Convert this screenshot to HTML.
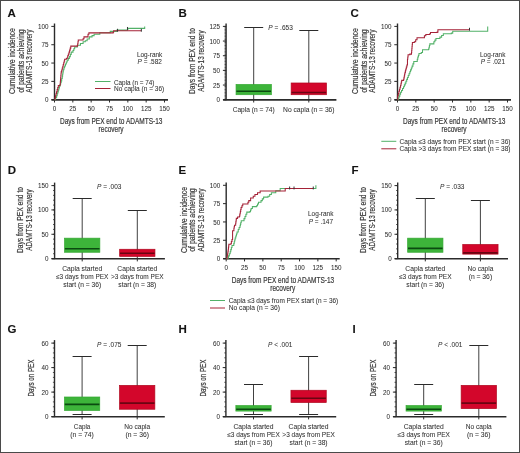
<!DOCTYPE html>
<html><head><meta charset="utf-8"><title>Figure</title>
<style>
html,body{margin:0;padding:0;background:#fff;}
body{width:520px;height:453px;overflow:hidden;}
svg{display:block;will-change:transform;}
svg text.t{stroke-width:0.2px;}
svg text.s{stroke-width:0.05px;fill:#303030;}
svg text{font-family:"Liberation Sans", sans-serif;stroke:#3a3a3a;stroke-width:0.12px;}
</style></head>
<body>
<svg width="520" height="453" viewBox="0 0 520 453" font-family='"Liberation Sans", sans-serif' fill="#3a3a3a">
<rect x="0" y="0" width="520" height="453" fill="#fff"/>
<text x="7.60" y="16.50" font-size="11.5" font-weight="bold" fill="#111">A</text>
<text transform="translate(14.80,61.10) rotate(-90)" font-size="8.4" class="t" text-anchor="middle" textLength="66.00" lengthAdjust="spacingAndGlyphs">Cumulative incidence</text>
<text transform="translate(23.50,61.10) rotate(-90)" font-size="8.4" class="t" text-anchor="middle" textLength="63.50" lengthAdjust="spacingAndGlyphs">of patients achieving</text>
<text transform="translate(31.80,61.10) rotate(-90)" font-size="8.4" class="t" text-anchor="middle" textLength="63.20" lengthAdjust="spacingAndGlyphs">ADAMTS-13 recovery</text>
<line x1="54.50" y1="23.50" x2="54.50" y2="100.20" stroke="#2b2b2b" stroke-width="1.4" />
<line x1="51.30" y1="99.70" x2="54.50" y2="99.70" stroke="#2b2b2b" stroke-width="1.0" />
<text x="48.50" y="102.25" font-size="6.3" class="s" text-anchor="end">0</text>
<line x1="51.30" y1="81.38" x2="54.50" y2="81.38" stroke="#2b2b2b" stroke-width="1.0" />
<text x="48.50" y="83.92" font-size="6.3" class="s" text-anchor="end">25</text>
<line x1="51.30" y1="63.05" x2="54.50" y2="63.05" stroke="#2b2b2b" stroke-width="1.0" />
<text x="48.50" y="65.60" font-size="6.3" class="s" text-anchor="end">50</text>
<line x1="51.30" y1="44.73" x2="54.50" y2="44.73" stroke="#2b2b2b" stroke-width="1.0" />
<text x="48.50" y="47.27" font-size="6.3" class="s" text-anchor="end">75</text>
<line x1="51.30" y1="26.40" x2="54.50" y2="26.40" stroke="#2b2b2b" stroke-width="1.0" />
<text x="48.50" y="28.95" font-size="6.3" class="s" text-anchor="end">100</text>
<line x1="51.50" y1="99.90" x2="168.00" y2="99.90" stroke="#2b2b2b" stroke-width="1.6" />
<line x1="54.50" y1="99.70" x2="54.50" y2="102.50" stroke="#2b2b2b" stroke-width="1.0" />
<text x="54.50" y="111.20" font-size="6.3" class="s" text-anchor="middle">0</text>
<line x1="72.83" y1="99.70" x2="72.83" y2="102.50" stroke="#2b2b2b" stroke-width="1.0" />
<text x="72.83" y="111.20" font-size="6.3" class="s" text-anchor="middle">25</text>
<line x1="91.17" y1="99.70" x2="91.17" y2="102.50" stroke="#2b2b2b" stroke-width="1.0" />
<text x="91.17" y="111.20" font-size="6.3" class="s" text-anchor="middle">50</text>
<line x1="109.50" y1="99.70" x2="109.50" y2="102.50" stroke="#2b2b2b" stroke-width="1.0" />
<text x="109.50" y="111.20" font-size="6.3" class="s" text-anchor="middle">75</text>
<line x1="127.83" y1="99.70" x2="127.83" y2="102.50" stroke="#2b2b2b" stroke-width="1.0" />
<text x="127.83" y="111.20" font-size="6.3" class="s" text-anchor="middle">100</text>
<line x1="146.17" y1="99.70" x2="146.17" y2="102.50" stroke="#2b2b2b" stroke-width="1.0" />
<text x="146.17" y="111.20" font-size="6.3" class="s" text-anchor="middle">125</text>
<line x1="164.50" y1="99.70" x2="164.50" y2="102.50" stroke="#2b2b2b" stroke-width="1.0" />
<text x="164.50" y="111.20" font-size="6.3" class="s" text-anchor="middle">150</text>
<text x="60.00" y="124.00" font-size="8.4" class="t" textLength="102.50" lengthAdjust="spacingAndGlyphs">Days from PEX end to ADAMTS-13</text>
<text x="111.10" y="132.40" font-size="8.4" class="t" text-anchor="middle" textLength="25.00" lengthAdjust="spacingAndGlyphs">recovery</text>
<path d="M54.50,99.70H55.56V97.72H56.63V95.74H57.20V93.80H57.76V91.86H58.33V89.91H58.90V87.97H59.47V86.19H60.04V84.42H60.60V82.64H61.17V80.86H61.72V78.55H62.27V76.24H62.62V74.05H62.96V71.85H63.30V69.65H63.96V67.81H64.62V65.98H65.48V64.03H66.33V62.07H67.19V60.12H68.29V58.36H69.39V56.60H70.30V54.36H71.22V52.13H72.98V50.44H73.82V48.72H74.67V47.00H77.38V45.24H80.46V43.41H83.10V41.79H85.30V40.84H87.13V39.08H89.33V36.88H92.05V35.64H94.10V34.32H99.82V32.70H110.23V31.38H116.98V30.14H127.47V28.97H128.20V28.38H144.70V26.40" fill="none" stroke="#52b168" stroke-width="1.05" stroke-linejoin="miter"/>
<line x1="127.47" y1="26.97" x2="127.47" y2="29.87" stroke="#333" stroke-width="1.0" />
<path d="M54.50,99.70H54.99V97.75H55.48V95.79H55.97V93.84H56.55V91.73H57.14V89.62H57.73V87.51H58.31V85.41H60.00V85.04H60.17V83.16H60.34V81.27H60.50V79.39H60.67V77.50H60.84V75.62H61.01V73.73H61.17V71.85H61.71V69.96H62.25V68.08H62.79V66.20H63.24V64.44H63.70V62.68H64.16V60.92H64.62V59.17H66.38V58.29H67.70V55.72H68.36V53.92H69.02V52.13H69.61V50.12H70.19V48.12H70.78V46.12H77.38V45.60H77.67V43.72H77.97V41.84H78.26V39.96H83.10V38.71H83.98V36.88H88.01V34.32H88.89V32.85H113.17V32.34H113.61V30.80H141.33" fill="none" stroke="#a52237" stroke-width="1.05" stroke-linejoin="miter"/>
<line x1="117.57" y1="28.80" x2="117.57" y2="31.70" stroke="#333" stroke-width="1.0" />
<line x1="141.33" y1="28.80" x2="141.33" y2="31.70" stroke="#333" stroke-width="1.0" />
<text x="136.90" y="56.90" font-size="6.4" class="s" textLength="25.40" lengthAdjust="spacingAndGlyphs">Log-rank</text>
<text x="137.60" y="64.20" font-size="6.4" class="s" textLength="24.30" lengthAdjust="spacingAndGlyphs"><tspan font-style="italic">P</tspan> = .582</text>
<line x1="95.00" y1="81.50" x2="110.50" y2="81.50" stroke="#52b168" stroke-width="1.0" />
<line x1="95.00" y1="88.50" x2="110.50" y2="88.50" stroke="#a52237" stroke-width="1.0" />
<text x="114.00" y="84.50" font-size="6.4" class="s" textLength="40.40" lengthAdjust="spacingAndGlyphs">Capla (n = 74)</text>
<text x="114.00" y="91.10" font-size="6.4" class="s" textLength="50.20" lengthAdjust="spacingAndGlyphs">No capla (n = 36)</text>
<text x="350.40" y="16.50" font-size="11.5" font-weight="bold" fill="#111">C</text>
<text transform="translate(357.80,61.10) rotate(-90)" font-size="8.4" class="t" text-anchor="middle" textLength="66.00" lengthAdjust="spacingAndGlyphs">Cumulative incidence</text>
<text transform="translate(366.50,61.10) rotate(-90)" font-size="8.4" class="t" text-anchor="middle" textLength="63.50" lengthAdjust="spacingAndGlyphs">of patients achieving</text>
<text transform="translate(374.80,61.10) rotate(-90)" font-size="8.4" class="t" text-anchor="middle" textLength="63.20" lengthAdjust="spacingAndGlyphs">ADAMTS-13 recovery</text>
<line x1="397.50" y1="23.50" x2="397.50" y2="100.20" stroke="#2b2b2b" stroke-width="1.4" />
<line x1="394.30" y1="99.70" x2="397.50" y2="99.70" stroke="#2b2b2b" stroke-width="1.0" />
<text x="391.50" y="102.25" font-size="6.3" class="s" text-anchor="end">0</text>
<line x1="394.30" y1="81.38" x2="397.50" y2="81.38" stroke="#2b2b2b" stroke-width="1.0" />
<text x="391.50" y="83.92" font-size="6.3" class="s" text-anchor="end">25</text>
<line x1="394.30" y1="63.05" x2="397.50" y2="63.05" stroke="#2b2b2b" stroke-width="1.0" />
<text x="391.50" y="65.60" font-size="6.3" class="s" text-anchor="end">50</text>
<line x1="394.30" y1="44.73" x2="397.50" y2="44.73" stroke="#2b2b2b" stroke-width="1.0" />
<text x="391.50" y="47.27" font-size="6.3" class="s" text-anchor="end">75</text>
<line x1="394.30" y1="26.40" x2="397.50" y2="26.40" stroke="#2b2b2b" stroke-width="1.0" />
<text x="391.50" y="28.95" font-size="6.3" class="s" text-anchor="end">100</text>
<line x1="394.50" y1="99.90" x2="511.00" y2="99.90" stroke="#2b2b2b" stroke-width="1.6" />
<line x1="397.50" y1="99.70" x2="397.50" y2="102.50" stroke="#2b2b2b" stroke-width="1.0" />
<text x="397.50" y="111.20" font-size="6.3" class="s" text-anchor="middle">0</text>
<line x1="415.83" y1="99.70" x2="415.83" y2="102.50" stroke="#2b2b2b" stroke-width="1.0" />
<text x="415.83" y="111.20" font-size="6.3" class="s" text-anchor="middle">25</text>
<line x1="434.17" y1="99.70" x2="434.17" y2="102.50" stroke="#2b2b2b" stroke-width="1.0" />
<text x="434.17" y="111.20" font-size="6.3" class="s" text-anchor="middle">50</text>
<line x1="452.50" y1="99.70" x2="452.50" y2="102.50" stroke="#2b2b2b" stroke-width="1.0" />
<text x="452.50" y="111.20" font-size="6.3" class="s" text-anchor="middle">75</text>
<line x1="470.83" y1="99.70" x2="470.83" y2="102.50" stroke="#2b2b2b" stroke-width="1.0" />
<text x="470.83" y="111.20" font-size="6.3" class="s" text-anchor="middle">100</text>
<line x1="489.17" y1="99.70" x2="489.17" y2="102.50" stroke="#2b2b2b" stroke-width="1.0" />
<text x="489.17" y="111.20" font-size="6.3" class="s" text-anchor="middle">125</text>
<line x1="507.50" y1="99.70" x2="507.50" y2="102.50" stroke="#2b2b2b" stroke-width="1.0" />
<text x="507.50" y="111.20" font-size="6.3" class="s" text-anchor="middle">150</text>
<text x="403.00" y="124.00" font-size="8.4" class="t" textLength="102.50" lengthAdjust="spacingAndGlyphs">Days from PEX end to ADAMTS-13</text>
<text x="454.10" y="132.40" font-size="8.4" class="t" text-anchor="middle" textLength="25.00" lengthAdjust="spacingAndGlyphs">recovery</text>
<path d="M397.50,99.70H398.31V98.01H399.06V96.11H399.82V94.20H400.58V92.30H401.56V90.42H402.54V88.53H403.51V86.65H404.36V84.89H405.20V83.13H405.96V81.25H406.72V79.37H407.47V77.49H408.26V75.58H409.04V73.68H409.82V71.77H410.58V69.89H411.34V68.01H412.09V66.13H412.94V63.86H413.78V61.58H416.71V61.58H417.26V59.31H417.81V57.04H418.40V55.28H418.99V53.52H421.26V52.42H422.51V49.71H428.59V49.05H429.01V47.31H429.42V45.58H429.84V43.85H433.87V41.79H434.90V40.14H435.93V38.49H439.89V37.10H441.61V35.45H443.33V33.80H451.33V33.14H452.72V31.16H487.70V26.40" fill="none" stroke="#52b168" stroke-width="1.05" stroke-linejoin="miter"/>
<path d="M397.50,99.70H397.72V95.74H398.31V93.47H398.89V91.20H399.46V89.27H400.02V87.34H400.58V85.41H400.95V83.72H401.31V82.03H401.68V80.35H403.51V79.76H403.88V77.86H404.25V75.95H404.61V74.05H405.00V72.36H405.40V70.67H405.79V68.99H406.34V66.97H406.89V64.96H407.47V59.31H407.77V57.00H408.06V54.69H409.82V54.11H411.51V52.42H411.68V50.43H411.86V48.43H412.03V46.44H412.21V44.45H412.39V42.45H414.37V41.79H415.69V39.78H417.01V37.76H424.41V35.78H425.81V34.46H429.77V33.80H430.50V32.41H437.17V32.12H437.91V29.77H469.51" fill="none" stroke="#a52237" stroke-width="1.05" stroke-linejoin="miter"/>
<line x1="469.51" y1="27.77" x2="469.51" y2="30.67" stroke="#333" stroke-width="1.0" />
<text x="480.00" y="57.00" font-size="6.4" class="s" textLength="25.40" lengthAdjust="spacingAndGlyphs">Log-rank</text>
<text x="480.70" y="64.30" font-size="6.4" class="s" textLength="24.30" lengthAdjust="spacingAndGlyphs"><tspan font-style="italic">P</tspan> = .021</text>
<line x1="381.30" y1="141.30" x2="396.30" y2="141.30" stroke="#52b168" stroke-width="1.0" />
<line x1="381.30" y1="148.80" x2="396.30" y2="148.80" stroke="#a52237" stroke-width="1.0" />
<text x="399.50" y="143.60" font-size="6.4" class="s" textLength="111.00" lengthAdjust="spacingAndGlyphs">Capla ≤3 days from PEX start (n = 36)</text>
<text x="399.50" y="151.10" font-size="6.4" class="s" textLength="111.00" lengthAdjust="spacingAndGlyphs">Capla &gt;3 days from PEX start (n = 38)</text>
<text x="178.60" y="174.30" font-size="11.5" font-weight="bold" fill="#111">E</text>
<text transform="translate(186.50,220.00) rotate(-90)" font-size="8.4" class="t" text-anchor="middle" textLength="66.00" lengthAdjust="spacingAndGlyphs">Cumulative incidence</text>
<text transform="translate(195.20,220.00) rotate(-90)" font-size="8.4" class="t" text-anchor="middle" textLength="63.50" lengthAdjust="spacingAndGlyphs">of patients achieving</text>
<text transform="translate(203.50,220.00) rotate(-90)" font-size="8.4" class="t" text-anchor="middle" textLength="63.20" lengthAdjust="spacingAndGlyphs">ADAMTS-13 recovery</text>
<line x1="226.20" y1="182.40" x2="226.20" y2="259.10" stroke="#2b2b2b" stroke-width="1.4" />
<line x1="223.00" y1="258.60" x2="226.20" y2="258.60" stroke="#2b2b2b" stroke-width="1.0" />
<text x="220.20" y="261.15" font-size="6.3" class="s" text-anchor="end">0</text>
<line x1="223.00" y1="240.28" x2="226.20" y2="240.28" stroke="#2b2b2b" stroke-width="1.0" />
<text x="220.20" y="242.83" font-size="6.3" class="s" text-anchor="end">25</text>
<line x1="223.00" y1="221.95" x2="226.20" y2="221.95" stroke="#2b2b2b" stroke-width="1.0" />
<text x="220.20" y="224.50" font-size="6.3" class="s" text-anchor="end">50</text>
<line x1="223.00" y1="203.63" x2="226.20" y2="203.63" stroke="#2b2b2b" stroke-width="1.0" />
<text x="220.20" y="206.18" font-size="6.3" class="s" text-anchor="end">75</text>
<line x1="223.00" y1="185.30" x2="226.20" y2="185.30" stroke="#2b2b2b" stroke-width="1.0" />
<text x="220.20" y="187.85" font-size="6.3" class="s" text-anchor="end">100</text>
<line x1="223.20" y1="258.80" x2="339.70" y2="258.80" stroke="#2b2b2b" stroke-width="1.6" />
<line x1="226.20" y1="258.60" x2="226.20" y2="261.40" stroke="#2b2b2b" stroke-width="1.0" />
<text x="226.20" y="270.10" font-size="6.3" class="s" text-anchor="middle">0</text>
<line x1="244.53" y1="258.60" x2="244.53" y2="261.40" stroke="#2b2b2b" stroke-width="1.0" />
<text x="244.53" y="270.10" font-size="6.3" class="s" text-anchor="middle">25</text>
<line x1="262.87" y1="258.60" x2="262.87" y2="261.40" stroke="#2b2b2b" stroke-width="1.0" />
<text x="262.87" y="270.10" font-size="6.3" class="s" text-anchor="middle">50</text>
<line x1="281.20" y1="258.60" x2="281.20" y2="261.40" stroke="#2b2b2b" stroke-width="1.0" />
<text x="281.20" y="270.10" font-size="6.3" class="s" text-anchor="middle">75</text>
<line x1="299.53" y1="258.60" x2="299.53" y2="261.40" stroke="#2b2b2b" stroke-width="1.0" />
<text x="299.53" y="270.10" font-size="6.3" class="s" text-anchor="middle">100</text>
<line x1="317.87" y1="258.60" x2="317.87" y2="261.40" stroke="#2b2b2b" stroke-width="1.0" />
<text x="317.87" y="270.10" font-size="6.3" class="s" text-anchor="middle">125</text>
<line x1="336.20" y1="258.60" x2="336.20" y2="261.40" stroke="#2b2b2b" stroke-width="1.0" />
<text x="336.20" y="270.10" font-size="6.3" class="s" text-anchor="middle">150</text>
<text x="231.70" y="282.90" font-size="8.4" class="t" textLength="102.50" lengthAdjust="spacingAndGlyphs">Days from PEX end to ADAMTS-13</text>
<text x="282.80" y="291.30" font-size="8.4" class="t" text-anchor="middle" textLength="25.00" lengthAdjust="spacingAndGlyphs">recovery</text>
<path d="M226.20,258.60H227.67V257.94H228.50V255.86H229.33V253.79H230.16V251.71H230.77V249.63H231.38V247.56H231.99V245.48H233.31V245.48H233.77V243.63H234.23V241.78H234.69V239.93H235.15V238.08H235.78V236.05H236.42V234.02H237.05V231.99H238.23V229.43H239.11V227.59H239.99V225.76H240.40V224.10H240.82V222.44H241.23V220.78H243.07V220.78H244.02V218.61H244.97V216.45H245.89V214.29H246.81V212.13H249.89V211.54H250.51V210.00H251.13V208.46H252.38V206.63H256.63V205.82H257.55V204.06H258.47V202.31H261.03V200.62H262.32V198.86H263.60V197.10H268.00V196.22H269.69V194.50H271.37V192.78H275.77V190.65H280.17V188.53H315.89V185.30" fill="none" stroke="#52b168" stroke-width="1.05" stroke-linejoin="miter"/>
<path d="M226.20,258.60H227.08V256.77H227.37V254.88H227.67V252.99H227.96V251.11H228.25V249.22H228.45V247.58H228.64V245.94H228.84V244.31H230.75V243.72H231.37V241.56H231.99V239.40H232.58V230.67H233.90V228.25H234.19V226.71H234.49V225.18H235.66V223.27H235.88V221.63H236.10V220.00H236.32V218.36H237.57V217.04H239.40V216.45H239.69V214.88H239.99V213.30H240.35V211.37H240.72V209.44H241.09V207.51H241.93V205.75H242.77V203.99H247.10V203.99H247.94V202.31H248.79V200.62H250.62V197.98H253.26V196.22H254.95V194.46H257.51V192.78H260.15V191.02H280.17V191.02H285.23V188.53H313.25" fill="none" stroke="#a52237" stroke-width="1.05" stroke-linejoin="miter"/>
<line x1="289.63" y1="186.53" x2="289.63" y2="189.43" stroke="#333" stroke-width="1.0" />
<line x1="294.03" y1="186.53" x2="294.03" y2="189.43" stroke="#333" stroke-width="1.0" />
<line x1="313.25" y1="186.53" x2="313.25" y2="189.43" stroke="#333" stroke-width="1.0" />
<text x="308.00" y="216.20" font-size="6.4" class="s" textLength="25.40" lengthAdjust="spacingAndGlyphs">Log-rank</text>
<text x="308.70" y="223.50" font-size="6.4" class="s" textLength="24.30" lengthAdjust="spacingAndGlyphs"><tspan font-style="italic">P</tspan> = .147</text>
<line x1="210.00" y1="300.50" x2="225.00" y2="300.50" stroke="#52b168" stroke-width="1.0" />
<line x1="210.00" y1="308.00" x2="225.00" y2="308.00" stroke="#a52237" stroke-width="1.0" />
<text x="228.70" y="302.60" font-size="6.4" class="s" textLength="109.60" lengthAdjust="spacingAndGlyphs">Capla ≤3 days from PEX start (n = 36)</text>
<text x="228.70" y="310.10" font-size="6.4" class="s" textLength="51.30" lengthAdjust="spacingAndGlyphs">No capla (n = 36)</text>
<text x="178.60" y="16.50" font-size="11.5" font-weight="bold" fill="#111">B</text>
<text transform="translate(194.50,61.10) rotate(-90)" font-size="8.4" class="t" text-anchor="middle" textLength="66.00" lengthAdjust="spacingAndGlyphs">Days from PEX end to</text>
<text transform="translate(203.50,61.10) rotate(-90)" font-size="8.4" class="t" text-anchor="middle" textLength="61.40" lengthAdjust="spacingAndGlyphs">ADAMTS-13 recovery</text>
<line x1="226.10" y1="23.40" x2="226.10" y2="100.20" stroke="#2b2b2b" stroke-width="1.4" />
<line x1="222.90" y1="99.70" x2="226.10" y2="99.70" stroke="#2b2b2b" stroke-width="1.0" />
<text x="220.10" y="102.25" font-size="6.3" class="s" text-anchor="end">0</text>
<line x1="222.90" y1="85.04" x2="226.10" y2="85.04" stroke="#2b2b2b" stroke-width="1.0" />
<text x="220.10" y="87.59" font-size="6.3" class="s" text-anchor="end">25</text>
<line x1="222.90" y1="70.38" x2="226.10" y2="70.38" stroke="#2b2b2b" stroke-width="1.0" />
<text x="220.10" y="72.93" font-size="6.3" class="s" text-anchor="end">50</text>
<line x1="222.90" y1="55.72" x2="226.10" y2="55.72" stroke="#2b2b2b" stroke-width="1.0" />
<text x="220.10" y="58.27" font-size="6.3" class="s" text-anchor="end">75</text>
<line x1="222.90" y1="41.06" x2="226.10" y2="41.06" stroke="#2b2b2b" stroke-width="1.0" />
<text x="220.10" y="43.61" font-size="6.3" class="s" text-anchor="end">100</text>
<line x1="222.90" y1="26.40" x2="226.10" y2="26.40" stroke="#2b2b2b" stroke-width="1.0" />
<text x="220.10" y="28.95" font-size="6.3" class="s" text-anchor="end">125</text>
<line x1="224.50" y1="99.70" x2="226.10" y2="99.70" stroke="#2b2b2b" stroke-width="0.8" />
<line x1="224.50" y1="98.23" x2="226.10" y2="98.23" stroke="#2b2b2b" stroke-width="0.8" />
<line x1="224.50" y1="96.77" x2="226.10" y2="96.77" stroke="#2b2b2b" stroke-width="0.8" />
<line x1="224.50" y1="95.30" x2="226.10" y2="95.30" stroke="#2b2b2b" stroke-width="0.8" />
<line x1="224.50" y1="93.84" x2="226.10" y2="93.84" stroke="#2b2b2b" stroke-width="0.8" />
<line x1="224.50" y1="92.37" x2="226.10" y2="92.37" stroke="#2b2b2b" stroke-width="0.8" />
<line x1="224.50" y1="90.90" x2="226.10" y2="90.90" stroke="#2b2b2b" stroke-width="0.8" />
<line x1="224.50" y1="89.44" x2="226.10" y2="89.44" stroke="#2b2b2b" stroke-width="0.8" />
<line x1="224.50" y1="87.97" x2="226.10" y2="87.97" stroke="#2b2b2b" stroke-width="0.8" />
<line x1="224.50" y1="86.51" x2="226.10" y2="86.51" stroke="#2b2b2b" stroke-width="0.8" />
<line x1="224.50" y1="85.04" x2="226.10" y2="85.04" stroke="#2b2b2b" stroke-width="0.8" />
<line x1="224.50" y1="83.57" x2="226.10" y2="83.57" stroke="#2b2b2b" stroke-width="0.8" />
<line x1="224.50" y1="82.11" x2="226.10" y2="82.11" stroke="#2b2b2b" stroke-width="0.8" />
<line x1="224.50" y1="80.64" x2="226.10" y2="80.64" stroke="#2b2b2b" stroke-width="0.8" />
<line x1="224.50" y1="79.18" x2="226.10" y2="79.18" stroke="#2b2b2b" stroke-width="0.8" />
<line x1="224.50" y1="77.71" x2="226.10" y2="77.71" stroke="#2b2b2b" stroke-width="0.8" />
<line x1="224.50" y1="76.24" x2="226.10" y2="76.24" stroke="#2b2b2b" stroke-width="0.8" />
<line x1="224.50" y1="74.78" x2="226.10" y2="74.78" stroke="#2b2b2b" stroke-width="0.8" />
<line x1="224.50" y1="73.31" x2="226.10" y2="73.31" stroke="#2b2b2b" stroke-width="0.8" />
<line x1="224.50" y1="71.85" x2="226.10" y2="71.85" stroke="#2b2b2b" stroke-width="0.8" />
<line x1="224.50" y1="70.38" x2="226.10" y2="70.38" stroke="#2b2b2b" stroke-width="0.8" />
<line x1="224.50" y1="68.91" x2="226.10" y2="68.91" stroke="#2b2b2b" stroke-width="0.8" />
<line x1="224.50" y1="67.45" x2="226.10" y2="67.45" stroke="#2b2b2b" stroke-width="0.8" />
<line x1="224.50" y1="65.98" x2="226.10" y2="65.98" stroke="#2b2b2b" stroke-width="0.8" />
<line x1="224.50" y1="64.52" x2="226.10" y2="64.52" stroke="#2b2b2b" stroke-width="0.8" />
<line x1="224.50" y1="63.05" x2="226.10" y2="63.05" stroke="#2b2b2b" stroke-width="0.8" />
<line x1="224.50" y1="61.58" x2="226.10" y2="61.58" stroke="#2b2b2b" stroke-width="0.8" />
<line x1="224.50" y1="60.12" x2="226.10" y2="60.12" stroke="#2b2b2b" stroke-width="0.8" />
<line x1="224.50" y1="58.65" x2="226.10" y2="58.65" stroke="#2b2b2b" stroke-width="0.8" />
<line x1="224.50" y1="57.19" x2="226.10" y2="57.19" stroke="#2b2b2b" stroke-width="0.8" />
<line x1="224.50" y1="55.72" x2="226.10" y2="55.72" stroke="#2b2b2b" stroke-width="0.8" />
<line x1="224.50" y1="54.25" x2="226.10" y2="54.25" stroke="#2b2b2b" stroke-width="0.8" />
<line x1="224.50" y1="52.79" x2="226.10" y2="52.79" stroke="#2b2b2b" stroke-width="0.8" />
<line x1="224.50" y1="51.32" x2="226.10" y2="51.32" stroke="#2b2b2b" stroke-width="0.8" />
<line x1="224.50" y1="49.86" x2="226.10" y2="49.86" stroke="#2b2b2b" stroke-width="0.8" />
<line x1="224.50" y1="48.39" x2="226.10" y2="48.39" stroke="#2b2b2b" stroke-width="0.8" />
<line x1="224.50" y1="46.92" x2="226.10" y2="46.92" stroke="#2b2b2b" stroke-width="0.8" />
<line x1="224.50" y1="45.46" x2="226.10" y2="45.46" stroke="#2b2b2b" stroke-width="0.8" />
<line x1="224.50" y1="43.99" x2="226.10" y2="43.99" stroke="#2b2b2b" stroke-width="0.8" />
<line x1="224.50" y1="42.53" x2="226.10" y2="42.53" stroke="#2b2b2b" stroke-width="0.8" />
<line x1="224.50" y1="41.06" x2="226.10" y2="41.06" stroke="#2b2b2b" stroke-width="0.8" />
<line x1="224.50" y1="39.59" x2="226.10" y2="39.59" stroke="#2b2b2b" stroke-width="0.8" />
<line x1="224.50" y1="38.13" x2="226.10" y2="38.13" stroke="#2b2b2b" stroke-width="0.8" />
<line x1="224.50" y1="36.66" x2="226.10" y2="36.66" stroke="#2b2b2b" stroke-width="0.8" />
<line x1="224.50" y1="35.20" x2="226.10" y2="35.20" stroke="#2b2b2b" stroke-width="0.8" />
<line x1="224.50" y1="33.73" x2="226.10" y2="33.73" stroke="#2b2b2b" stroke-width="0.8" />
<line x1="224.50" y1="32.26" x2="226.10" y2="32.26" stroke="#2b2b2b" stroke-width="0.8" />
<line x1="224.50" y1="30.80" x2="226.10" y2="30.80" stroke="#2b2b2b" stroke-width="0.8" />
<line x1="224.50" y1="29.33" x2="226.10" y2="29.33" stroke="#2b2b2b" stroke-width="0.8" />
<line x1="224.50" y1="27.87" x2="226.10" y2="27.87" stroke="#2b2b2b" stroke-width="0.8" />
<line x1="224.50" y1="26.40" x2="226.10" y2="26.40" stroke="#2b2b2b" stroke-width="0.8" />
<line x1="223.10" y1="99.90" x2="336.40" y2="99.90" stroke="#2b2b2b" stroke-width="1.6" />
<line x1="253.70" y1="99.70" x2="253.70" y2="102.50" stroke="#2b2b2b" stroke-width="1.0" />
<line x1="253.70" y1="27.50" x2="253.70" y2="99.50" stroke="#2b2b2b" stroke-width="0.9" />
<line x1="244.20" y1="27.50" x2="263.20" y2="27.50" stroke="#2b2b2b" stroke-width="1.0" />
<line x1="244.20" y1="99.50" x2="263.20" y2="99.50" stroke="#2b2b2b" stroke-width="1.0" />
<rect x="236.05" y="84.45" width="35.30" height="10.26" fill="#3db43a" stroke="#34a832" stroke-width="0.7"/>
<line x1="236.40" y1="91.20" x2="271.00" y2="91.20" stroke="#0b4a10" stroke-width="1.6" />
<text x="253.70" y="111.80" font-size="6.4" class="s" text-anchor="middle" textLength="42.00" lengthAdjust="spacingAndGlyphs">Capla (n = 74)</text>
<line x1="308.80" y1="99.70" x2="308.80" y2="102.50" stroke="#2b2b2b" stroke-width="1.0" />
<line x1="308.80" y1="30.50" x2="308.80" y2="99.50" stroke="#2b2b2b" stroke-width="0.9" />
<line x1="299.30" y1="30.50" x2="318.30" y2="30.50" stroke="#2b2b2b" stroke-width="1.0" />
<line x1="299.30" y1="99.50" x2="318.30" y2="99.50" stroke="#2b2b2b" stroke-width="1.0" />
<rect x="291.15" y="82.99" width="35.30" height="11.73" fill="#d3062b" stroke="#b0081f" stroke-width="0.7"/>
<line x1="291.50" y1="92.55" x2="326.10" y2="92.55" stroke="#6a0512" stroke-width="1.6" />
<text x="308.80" y="111.80" font-size="6.4" class="s" text-anchor="middle" textLength="51.50" lengthAdjust="spacingAndGlyphs">No capla (n = 36)</text>
<text x="268.30" y="30.00" font-size="6.4" class="s" textLength="24.50" lengthAdjust="spacingAndGlyphs"><tspan font-style="italic">P</tspan> = .653</text>
<text x="7.80" y="174.30" font-size="11.5" font-weight="bold" fill="#111">D</text>
<text transform="translate(23.00,220.00) rotate(-90)" font-size="8.4" class="t" text-anchor="middle" textLength="66.00" lengthAdjust="spacingAndGlyphs">Days from PEX end to</text>
<text transform="translate(32.00,220.00) rotate(-90)" font-size="8.4" class="t" text-anchor="middle" textLength="61.40" lengthAdjust="spacingAndGlyphs">ADAMTS-13 recovery</text>
<line x1="54.60" y1="182.60" x2="54.60" y2="259.10" stroke="#2b2b2b" stroke-width="1.4" />
<line x1="51.40" y1="258.60" x2="54.60" y2="258.60" stroke="#2b2b2b" stroke-width="1.0" />
<text x="48.60" y="261.15" font-size="6.3" class="s" text-anchor="end">0</text>
<line x1="51.40" y1="234.27" x2="54.60" y2="234.27" stroke="#2b2b2b" stroke-width="1.0" />
<text x="48.60" y="236.82" font-size="6.3" class="s" text-anchor="end">50</text>
<line x1="51.40" y1="209.93" x2="54.60" y2="209.93" stroke="#2b2b2b" stroke-width="1.0" />
<text x="48.60" y="212.48" font-size="6.3" class="s" text-anchor="end">100</text>
<line x1="51.40" y1="185.60" x2="54.60" y2="185.60" stroke="#2b2b2b" stroke-width="1.0" />
<text x="48.60" y="188.15" font-size="6.3" class="s" text-anchor="end">150</text>
<line x1="53.00" y1="258.60" x2="54.60" y2="258.60" stroke="#2b2b2b" stroke-width="0.8" />
<line x1="53.00" y1="253.73" x2="54.60" y2="253.73" stroke="#2b2b2b" stroke-width="0.8" />
<line x1="53.00" y1="248.87" x2="54.60" y2="248.87" stroke="#2b2b2b" stroke-width="0.8" />
<line x1="53.00" y1="244.00" x2="54.60" y2="244.00" stroke="#2b2b2b" stroke-width="0.8" />
<line x1="53.00" y1="239.13" x2="54.60" y2="239.13" stroke="#2b2b2b" stroke-width="0.8" />
<line x1="53.00" y1="234.27" x2="54.60" y2="234.27" stroke="#2b2b2b" stroke-width="0.8" />
<line x1="53.00" y1="229.40" x2="54.60" y2="229.40" stroke="#2b2b2b" stroke-width="0.8" />
<line x1="53.00" y1="224.53" x2="54.60" y2="224.53" stroke="#2b2b2b" stroke-width="0.8" />
<line x1="53.00" y1="219.67" x2="54.60" y2="219.67" stroke="#2b2b2b" stroke-width="0.8" />
<line x1="53.00" y1="214.80" x2="54.60" y2="214.80" stroke="#2b2b2b" stroke-width="0.8" />
<line x1="53.00" y1="209.93" x2="54.60" y2="209.93" stroke="#2b2b2b" stroke-width="0.8" />
<line x1="53.00" y1="205.07" x2="54.60" y2="205.07" stroke="#2b2b2b" stroke-width="0.8" />
<line x1="53.00" y1="200.20" x2="54.60" y2="200.20" stroke="#2b2b2b" stroke-width="0.8" />
<line x1="53.00" y1="195.33" x2="54.60" y2="195.33" stroke="#2b2b2b" stroke-width="0.8" />
<line x1="53.00" y1="190.47" x2="54.60" y2="190.47" stroke="#2b2b2b" stroke-width="0.8" />
<line x1="53.00" y1="185.60" x2="54.60" y2="185.60" stroke="#2b2b2b" stroke-width="0.8" />
<line x1="51.60" y1="258.80" x2="164.90" y2="258.80" stroke="#2b2b2b" stroke-width="1.6" />
<line x1="82.20" y1="258.60" x2="82.20" y2="261.40" stroke="#2b2b2b" stroke-width="1.0" />
<line x1="82.20" y1="198.50" x2="82.20" y2="258.50" stroke="#2b2b2b" stroke-width="0.9" />
<line x1="72.70" y1="198.50" x2="91.70" y2="198.50" stroke="#2b2b2b" stroke-width="1.0" />
<line x1="72.70" y1="258.50" x2="91.70" y2="258.50" stroke="#2b2b2b" stroke-width="1.0" />
<rect x="64.55" y="238.16" width="35.30" height="14.11" fill="#3db43a" stroke="#34a832" stroke-width="0.7"/>
<line x1="64.90" y1="248.77" x2="99.50" y2="248.77" stroke="#0b4a10" stroke-width="1.6" />
<text x="82.20" y="271.00" font-size="6.4" class="s" text-anchor="middle" textLength="40.00" lengthAdjust="spacingAndGlyphs">Capla started</text>
<text x="82.20" y="278.60" font-size="6.4" class="s" text-anchor="middle" textLength="52.50" lengthAdjust="spacingAndGlyphs">≤3 days from PEX</text>
<text x="82.20" y="286.60" font-size="6.4" class="s" text-anchor="middle" textLength="38.00" lengthAdjust="spacingAndGlyphs">start (n = 36)</text>
<line x1="137.30" y1="258.60" x2="137.30" y2="261.40" stroke="#2b2b2b" stroke-width="1.0" />
<line x1="137.30" y1="210.50" x2="137.30" y2="258.50" stroke="#2b2b2b" stroke-width="0.9" />
<line x1="127.80" y1="210.50" x2="146.80" y2="210.50" stroke="#2b2b2b" stroke-width="1.0" />
<line x1="127.80" y1="258.50" x2="146.80" y2="258.50" stroke="#2b2b2b" stroke-width="1.0" />
<rect x="119.65" y="249.26" width="35.30" height="7.15" fill="#d3062b" stroke="#b0081f" stroke-width="0.7"/>
<line x1="120.00" y1="253.25" x2="154.60" y2="253.25" stroke="#6a0512" stroke-width="1.6" />
<text x="137.30" y="271.00" font-size="6.4" class="s" text-anchor="middle" textLength="40.00" lengthAdjust="spacingAndGlyphs">Capla started</text>
<text x="137.30" y="278.60" font-size="6.4" class="s" text-anchor="middle" textLength="52.50" lengthAdjust="spacingAndGlyphs">&gt;3 days from PEX</text>
<text x="137.30" y="286.60" font-size="6.4" class="s" text-anchor="middle" textLength="38.00" lengthAdjust="spacingAndGlyphs">start (n = 38)</text>
<text x="97.00" y="189.10" font-size="6.4" class="s" textLength="24.50" lengthAdjust="spacingAndGlyphs"><tspan font-style="italic">P</tspan> = .003</text>
<text x="351.60" y="174.30" font-size="11.5" font-weight="bold" fill="#111">F</text>
<text transform="translate(366.10,220.00) rotate(-90)" font-size="8.4" class="t" text-anchor="middle" textLength="66.00" lengthAdjust="spacingAndGlyphs">Days from PEX end to</text>
<text transform="translate(375.10,220.00) rotate(-90)" font-size="8.4" class="t" text-anchor="middle" textLength="61.40" lengthAdjust="spacingAndGlyphs">ADAMTS-13 recovery</text>
<line x1="397.70" y1="182.60" x2="397.70" y2="259.10" stroke="#2b2b2b" stroke-width="1.4" />
<line x1="394.50" y1="258.60" x2="397.70" y2="258.60" stroke="#2b2b2b" stroke-width="1.0" />
<text x="391.70" y="261.15" font-size="6.3" class="s" text-anchor="end">0</text>
<line x1="394.50" y1="234.27" x2="397.70" y2="234.27" stroke="#2b2b2b" stroke-width="1.0" />
<text x="391.70" y="236.82" font-size="6.3" class="s" text-anchor="end">50</text>
<line x1="394.50" y1="209.93" x2="397.70" y2="209.93" stroke="#2b2b2b" stroke-width="1.0" />
<text x="391.70" y="212.48" font-size="6.3" class="s" text-anchor="end">100</text>
<line x1="394.50" y1="185.60" x2="397.70" y2="185.60" stroke="#2b2b2b" stroke-width="1.0" />
<text x="391.70" y="188.15" font-size="6.3" class="s" text-anchor="end">150</text>
<line x1="396.10" y1="258.60" x2="397.70" y2="258.60" stroke="#2b2b2b" stroke-width="0.8" />
<line x1="396.10" y1="253.73" x2="397.70" y2="253.73" stroke="#2b2b2b" stroke-width="0.8" />
<line x1="396.10" y1="248.87" x2="397.70" y2="248.87" stroke="#2b2b2b" stroke-width="0.8" />
<line x1="396.10" y1="244.00" x2="397.70" y2="244.00" stroke="#2b2b2b" stroke-width="0.8" />
<line x1="396.10" y1="239.13" x2="397.70" y2="239.13" stroke="#2b2b2b" stroke-width="0.8" />
<line x1="396.10" y1="234.27" x2="397.70" y2="234.27" stroke="#2b2b2b" stroke-width="0.8" />
<line x1="396.10" y1="229.40" x2="397.70" y2="229.40" stroke="#2b2b2b" stroke-width="0.8" />
<line x1="396.10" y1="224.53" x2="397.70" y2="224.53" stroke="#2b2b2b" stroke-width="0.8" />
<line x1="396.10" y1="219.67" x2="397.70" y2="219.67" stroke="#2b2b2b" stroke-width="0.8" />
<line x1="396.10" y1="214.80" x2="397.70" y2="214.80" stroke="#2b2b2b" stroke-width="0.8" />
<line x1="396.10" y1="209.93" x2="397.70" y2="209.93" stroke="#2b2b2b" stroke-width="0.8" />
<line x1="396.10" y1="205.07" x2="397.70" y2="205.07" stroke="#2b2b2b" stroke-width="0.8" />
<line x1="396.10" y1="200.20" x2="397.70" y2="200.20" stroke="#2b2b2b" stroke-width="0.8" />
<line x1="396.10" y1="195.33" x2="397.70" y2="195.33" stroke="#2b2b2b" stroke-width="0.8" />
<line x1="396.10" y1="190.47" x2="397.70" y2="190.47" stroke="#2b2b2b" stroke-width="0.8" />
<line x1="396.10" y1="185.60" x2="397.70" y2="185.60" stroke="#2b2b2b" stroke-width="0.8" />
<line x1="394.70" y1="258.80" x2="508.00" y2="258.80" stroke="#2b2b2b" stroke-width="1.6" />
<line x1="425.30" y1="258.60" x2="425.30" y2="261.40" stroke="#2b2b2b" stroke-width="1.0" />
<line x1="425.30" y1="198.50" x2="425.30" y2="258.50" stroke="#2b2b2b" stroke-width="0.9" />
<line x1="415.80" y1="198.50" x2="434.80" y2="198.50" stroke="#2b2b2b" stroke-width="1.0" />
<line x1="415.80" y1="258.50" x2="434.80" y2="258.50" stroke="#2b2b2b" stroke-width="1.0" />
<rect x="407.65" y="238.16" width="35.30" height="14.11" fill="#3db43a" stroke="#34a832" stroke-width="0.7"/>
<line x1="408.00" y1="248.38" x2="442.60" y2="248.38" stroke="#0b4a10" stroke-width="1.6" />
<text x="425.30" y="271.00" font-size="6.4" class="s" text-anchor="middle" textLength="40.00" lengthAdjust="spacingAndGlyphs">Capla started</text>
<text x="425.30" y="278.60" font-size="6.4" class="s" text-anchor="middle" textLength="52.50" lengthAdjust="spacingAndGlyphs">≤3 days from PEX</text>
<text x="425.30" y="286.60" font-size="6.4" class="s" text-anchor="middle" textLength="38.00" lengthAdjust="spacingAndGlyphs">start (n = 36)</text>
<line x1="480.40" y1="258.60" x2="480.40" y2="261.40" stroke="#2b2b2b" stroke-width="1.0" />
<line x1="480.40" y1="200.50" x2="480.40" y2="258.50" stroke="#2b2b2b" stroke-width="0.9" />
<line x1="470.90" y1="200.50" x2="489.90" y2="200.50" stroke="#2b2b2b" stroke-width="1.0" />
<line x1="470.90" y1="258.50" x2="489.90" y2="258.50" stroke="#2b2b2b" stroke-width="1.0" />
<rect x="462.75" y="244.49" width="35.30" height="9.64" fill="#d3062b" stroke="#b0081f" stroke-width="0.7"/>
<line x1="463.10" y1="252.86" x2="497.70" y2="252.86" stroke="#6a0512" stroke-width="1.6" />
<text x="480.40" y="271.00" font-size="6.4" class="s" text-anchor="middle" textLength="26.00" lengthAdjust="spacingAndGlyphs">No capla</text>
<text x="480.40" y="278.60" font-size="6.4" class="s" text-anchor="middle" textLength="23.50" lengthAdjust="spacingAndGlyphs">(n = 36)</text>
<text x="440.00" y="188.90" font-size="6.4" class="s" textLength="24.50" lengthAdjust="spacingAndGlyphs"><tspan font-style="italic">P</tspan> = .033</text>
<text x="7.40" y="333.30" font-size="11.5" font-weight="bold" fill="#111">G</text>
<text transform="translate(34.40,378.10) rotate(-90)" font-size="8.4" class="t" text-anchor="middle" textLength="37.00" lengthAdjust="spacingAndGlyphs">Days on PEX</text>
<line x1="54.50" y1="340.10" x2="54.50" y2="417.10" stroke="#2b2b2b" stroke-width="1.4" />
<line x1="51.30" y1="416.60" x2="54.50" y2="416.60" stroke="#2b2b2b" stroke-width="1.0" />
<text x="48.50" y="419.15" font-size="6.3" class="s" text-anchor="end">0</text>
<line x1="51.30" y1="392.10" x2="54.50" y2="392.10" stroke="#2b2b2b" stroke-width="1.0" />
<text x="48.50" y="394.65" font-size="6.3" class="s" text-anchor="end">20</text>
<line x1="51.30" y1="367.60" x2="54.50" y2="367.60" stroke="#2b2b2b" stroke-width="1.0" />
<text x="48.50" y="370.15" font-size="6.3" class="s" text-anchor="end">40</text>
<line x1="51.30" y1="343.10" x2="54.50" y2="343.10" stroke="#2b2b2b" stroke-width="1.0" />
<text x="48.50" y="345.65" font-size="6.3" class="s" text-anchor="end">60</text>
<line x1="52.90" y1="416.60" x2="54.50" y2="416.60" stroke="#2b2b2b" stroke-width="0.8" />
<line x1="52.90" y1="411.70" x2="54.50" y2="411.70" stroke="#2b2b2b" stroke-width="0.8" />
<line x1="52.90" y1="406.80" x2="54.50" y2="406.80" stroke="#2b2b2b" stroke-width="0.8" />
<line x1="52.90" y1="401.90" x2="54.50" y2="401.90" stroke="#2b2b2b" stroke-width="0.8" />
<line x1="52.90" y1="397.00" x2="54.50" y2="397.00" stroke="#2b2b2b" stroke-width="0.8" />
<line x1="52.90" y1="392.10" x2="54.50" y2="392.10" stroke="#2b2b2b" stroke-width="0.8" />
<line x1="52.90" y1="387.20" x2="54.50" y2="387.20" stroke="#2b2b2b" stroke-width="0.8" />
<line x1="52.90" y1="382.30" x2="54.50" y2="382.30" stroke="#2b2b2b" stroke-width="0.8" />
<line x1="52.90" y1="377.40" x2="54.50" y2="377.40" stroke="#2b2b2b" stroke-width="0.8" />
<line x1="52.90" y1="372.50" x2="54.50" y2="372.50" stroke="#2b2b2b" stroke-width="0.8" />
<line x1="52.90" y1="367.60" x2="54.50" y2="367.60" stroke="#2b2b2b" stroke-width="0.8" />
<line x1="52.90" y1="362.70" x2="54.50" y2="362.70" stroke="#2b2b2b" stroke-width="0.8" />
<line x1="52.90" y1="357.80" x2="54.50" y2="357.80" stroke="#2b2b2b" stroke-width="0.8" />
<line x1="52.90" y1="352.90" x2="54.50" y2="352.90" stroke="#2b2b2b" stroke-width="0.8" />
<line x1="52.90" y1="348.00" x2="54.50" y2="348.00" stroke="#2b2b2b" stroke-width="0.8" />
<line x1="52.90" y1="343.10" x2="54.50" y2="343.10" stroke="#2b2b2b" stroke-width="0.8" />
<line x1="51.50" y1="416.80" x2="164.80" y2="416.80" stroke="#2b2b2b" stroke-width="1.6" />
<line x1="82.10" y1="416.60" x2="82.10" y2="419.40" stroke="#2b2b2b" stroke-width="1.0" />
<line x1="82.10" y1="356.50" x2="82.10" y2="414.50" stroke="#2b2b2b" stroke-width="0.9" />
<line x1="72.60" y1="356.50" x2="91.60" y2="356.50" stroke="#2b2b2b" stroke-width="1.0" />
<line x1="72.60" y1="414.50" x2="91.60" y2="414.50" stroke="#2b2b2b" stroke-width="1.0" />
<rect x="64.45" y="397.00" width="35.30" height="13.48" fill="#3db43a" stroke="#34a832" stroke-width="0.7"/>
<line x1="64.80" y1="404.35" x2="99.40" y2="404.35" stroke="#0b4a10" stroke-width="1.6" />
<text x="82.10" y="429.20" font-size="6.4" class="s" text-anchor="middle" textLength="16.50" lengthAdjust="spacingAndGlyphs">Capla</text>
<text x="82.10" y="436.80" font-size="6.4" class="s" text-anchor="middle" textLength="23.50" lengthAdjust="spacingAndGlyphs">(n = 74)</text>
<line x1="137.20" y1="416.60" x2="137.20" y2="419.40" stroke="#2b2b2b" stroke-width="1.0" />
<line x1="137.20" y1="345.50" x2="137.20" y2="416.50" stroke="#2b2b2b" stroke-width="0.9" />
<line x1="127.70" y1="345.50" x2="146.70" y2="345.50" stroke="#2b2b2b" stroke-width="1.0" />
<line x1="127.70" y1="416.50" x2="146.70" y2="416.50" stroke="#2b2b2b" stroke-width="1.0" />
<rect x="119.55" y="385.36" width="35.30" height="23.89" fill="#d3062b" stroke="#b0081f" stroke-width="0.7"/>
<line x1="119.90" y1="403.12" x2="154.50" y2="403.12" stroke="#6a0512" stroke-width="1.6" />
<text x="137.20" y="429.20" font-size="6.4" class="s" text-anchor="middle" textLength="26.00" lengthAdjust="spacingAndGlyphs">No capla</text>
<text x="137.20" y="436.80" font-size="6.4" class="s" text-anchor="middle" textLength="23.50" lengthAdjust="spacingAndGlyphs">(n = 36)</text>
<text x="97.00" y="347.00" font-size="6.4" class="s" textLength="24.50" lengthAdjust="spacingAndGlyphs"><tspan font-style="italic">P</tspan> = .075</text>
<text x="178.60" y="333.30" font-size="11.5" font-weight="bold" fill="#111">H</text>
<text transform="translate(205.80,378.10) rotate(-90)" font-size="8.4" class="t" text-anchor="middle" textLength="37.00" lengthAdjust="spacingAndGlyphs">Days on PEX</text>
<line x1="225.90" y1="340.10" x2="225.90" y2="417.10" stroke="#2b2b2b" stroke-width="1.4" />
<line x1="222.70" y1="416.60" x2="225.90" y2="416.60" stroke="#2b2b2b" stroke-width="1.0" />
<text x="219.90" y="419.15" font-size="6.3" class="s" text-anchor="end">0</text>
<line x1="222.70" y1="392.10" x2="225.90" y2="392.10" stroke="#2b2b2b" stroke-width="1.0" />
<text x="219.90" y="394.65" font-size="6.3" class="s" text-anchor="end">20</text>
<line x1="222.70" y1="367.60" x2="225.90" y2="367.60" stroke="#2b2b2b" stroke-width="1.0" />
<text x="219.90" y="370.15" font-size="6.3" class="s" text-anchor="end">40</text>
<line x1="222.70" y1="343.10" x2="225.90" y2="343.10" stroke="#2b2b2b" stroke-width="1.0" />
<text x="219.90" y="345.65" font-size="6.3" class="s" text-anchor="end">60</text>
<line x1="224.30" y1="416.60" x2="225.90" y2="416.60" stroke="#2b2b2b" stroke-width="0.8" />
<line x1="224.30" y1="411.70" x2="225.90" y2="411.70" stroke="#2b2b2b" stroke-width="0.8" />
<line x1="224.30" y1="406.80" x2="225.90" y2="406.80" stroke="#2b2b2b" stroke-width="0.8" />
<line x1="224.30" y1="401.90" x2="225.90" y2="401.90" stroke="#2b2b2b" stroke-width="0.8" />
<line x1="224.30" y1="397.00" x2="225.90" y2="397.00" stroke="#2b2b2b" stroke-width="0.8" />
<line x1="224.30" y1="392.10" x2="225.90" y2="392.10" stroke="#2b2b2b" stroke-width="0.8" />
<line x1="224.30" y1="387.20" x2="225.90" y2="387.20" stroke="#2b2b2b" stroke-width="0.8" />
<line x1="224.30" y1="382.30" x2="225.90" y2="382.30" stroke="#2b2b2b" stroke-width="0.8" />
<line x1="224.30" y1="377.40" x2="225.90" y2="377.40" stroke="#2b2b2b" stroke-width="0.8" />
<line x1="224.30" y1="372.50" x2="225.90" y2="372.50" stroke="#2b2b2b" stroke-width="0.8" />
<line x1="224.30" y1="367.60" x2="225.90" y2="367.60" stroke="#2b2b2b" stroke-width="0.8" />
<line x1="224.30" y1="362.70" x2="225.90" y2="362.70" stroke="#2b2b2b" stroke-width="0.8" />
<line x1="224.30" y1="357.80" x2="225.90" y2="357.80" stroke="#2b2b2b" stroke-width="0.8" />
<line x1="224.30" y1="352.90" x2="225.90" y2="352.90" stroke="#2b2b2b" stroke-width="0.8" />
<line x1="224.30" y1="348.00" x2="225.90" y2="348.00" stroke="#2b2b2b" stroke-width="0.8" />
<line x1="224.30" y1="343.10" x2="225.90" y2="343.10" stroke="#2b2b2b" stroke-width="0.8" />
<line x1="222.90" y1="416.80" x2="336.20" y2="416.80" stroke="#2b2b2b" stroke-width="1.6" />
<line x1="253.50" y1="416.60" x2="253.50" y2="419.40" stroke="#2b2b2b" stroke-width="1.0" />
<line x1="253.50" y1="384.50" x2="253.50" y2="414.50" stroke="#2b2b2b" stroke-width="0.9" />
<line x1="244.00" y1="384.50" x2="263.00" y2="384.50" stroke="#2b2b2b" stroke-width="1.0" />
<line x1="244.00" y1="414.50" x2="263.00" y2="414.50" stroke="#2b2b2b" stroke-width="1.0" />
<rect x="235.85" y="405.58" width="35.30" height="5.51" fill="#3db43a" stroke="#34a832" stroke-width="0.7"/>
<line x1="236.20" y1="409.25" x2="270.80" y2="409.25" stroke="#0b4a10" stroke-width="1.6" />
<text x="253.50" y="429.00" font-size="6.4" class="s" text-anchor="middle" textLength="40.00" lengthAdjust="spacingAndGlyphs">Capla started</text>
<text x="253.50" y="436.80" font-size="6.4" class="s" text-anchor="middle" textLength="52.50" lengthAdjust="spacingAndGlyphs">≤3 days from PEX</text>
<text x="253.50" y="444.80" font-size="6.4" class="s" text-anchor="middle" textLength="38.00" lengthAdjust="spacingAndGlyphs">start (n = 36)</text>
<line x1="308.60" y1="416.60" x2="308.60" y2="419.40" stroke="#2b2b2b" stroke-width="1.0" />
<line x1="308.60" y1="356.50" x2="308.60" y2="414.50" stroke="#2b2b2b" stroke-width="0.9" />
<line x1="299.10" y1="356.50" x2="318.10" y2="356.50" stroke="#2b2b2b" stroke-width="1.0" />
<line x1="299.10" y1="414.50" x2="318.10" y2="414.50" stroke="#2b2b2b" stroke-width="1.0" />
<rect x="290.95" y="390.26" width="35.30" height="12.25" fill="#d3062b" stroke="#b0081f" stroke-width="0.7"/>
<line x1="291.30" y1="398.23" x2="325.90" y2="398.23" stroke="#6a0512" stroke-width="1.6" />
<text x="308.60" y="429.00" font-size="6.4" class="s" text-anchor="middle" textLength="40.00" lengthAdjust="spacingAndGlyphs">Capla started</text>
<text x="308.60" y="436.80" font-size="6.4" class="s" text-anchor="middle" textLength="52.50" lengthAdjust="spacingAndGlyphs">&gt;3 days from PEX</text>
<text x="308.60" y="444.80" font-size="6.4" class="s" text-anchor="middle" textLength="38.00" lengthAdjust="spacingAndGlyphs">start (n = 38)</text>
<text x="268.00" y="346.50" font-size="6.4" class="s" textLength="24.50" lengthAdjust="spacingAndGlyphs"><tspan font-style="italic">P</tspan> &lt; .001</text>
<text x="352.60" y="333.30" font-size="11.5" font-weight="bold" fill="#111">I</text>
<text transform="translate(376.00,378.10) rotate(-90)" font-size="8.4" class="t" text-anchor="middle" textLength="37.00" lengthAdjust="spacingAndGlyphs">Days on PEX</text>
<line x1="396.10" y1="340.10" x2="396.10" y2="417.10" stroke="#2b2b2b" stroke-width="1.4" />
<line x1="392.90" y1="416.60" x2="396.10" y2="416.60" stroke="#2b2b2b" stroke-width="1.0" />
<text x="390.10" y="419.15" font-size="6.3" class="s" text-anchor="end">0</text>
<line x1="392.90" y1="392.10" x2="396.10" y2="392.10" stroke="#2b2b2b" stroke-width="1.0" />
<text x="390.10" y="394.65" font-size="6.3" class="s" text-anchor="end">20</text>
<line x1="392.90" y1="367.60" x2="396.10" y2="367.60" stroke="#2b2b2b" stroke-width="1.0" />
<text x="390.10" y="370.15" font-size="6.3" class="s" text-anchor="end">40</text>
<line x1="392.90" y1="343.10" x2="396.10" y2="343.10" stroke="#2b2b2b" stroke-width="1.0" />
<text x="390.10" y="345.65" font-size="6.3" class="s" text-anchor="end">60</text>
<line x1="394.50" y1="416.60" x2="396.10" y2="416.60" stroke="#2b2b2b" stroke-width="0.8" />
<line x1="394.50" y1="411.70" x2="396.10" y2="411.70" stroke="#2b2b2b" stroke-width="0.8" />
<line x1="394.50" y1="406.80" x2="396.10" y2="406.80" stroke="#2b2b2b" stroke-width="0.8" />
<line x1="394.50" y1="401.90" x2="396.10" y2="401.90" stroke="#2b2b2b" stroke-width="0.8" />
<line x1="394.50" y1="397.00" x2="396.10" y2="397.00" stroke="#2b2b2b" stroke-width="0.8" />
<line x1="394.50" y1="392.10" x2="396.10" y2="392.10" stroke="#2b2b2b" stroke-width="0.8" />
<line x1="394.50" y1="387.20" x2="396.10" y2="387.20" stroke="#2b2b2b" stroke-width="0.8" />
<line x1="394.50" y1="382.30" x2="396.10" y2="382.30" stroke="#2b2b2b" stroke-width="0.8" />
<line x1="394.50" y1="377.40" x2="396.10" y2="377.40" stroke="#2b2b2b" stroke-width="0.8" />
<line x1="394.50" y1="372.50" x2="396.10" y2="372.50" stroke="#2b2b2b" stroke-width="0.8" />
<line x1="394.50" y1="367.60" x2="396.10" y2="367.60" stroke="#2b2b2b" stroke-width="0.8" />
<line x1="394.50" y1="362.70" x2="396.10" y2="362.70" stroke="#2b2b2b" stroke-width="0.8" />
<line x1="394.50" y1="357.80" x2="396.10" y2="357.80" stroke="#2b2b2b" stroke-width="0.8" />
<line x1="394.50" y1="352.90" x2="396.10" y2="352.90" stroke="#2b2b2b" stroke-width="0.8" />
<line x1="394.50" y1="348.00" x2="396.10" y2="348.00" stroke="#2b2b2b" stroke-width="0.8" />
<line x1="394.50" y1="343.10" x2="396.10" y2="343.10" stroke="#2b2b2b" stroke-width="0.8" />
<line x1="393.10" y1="416.80" x2="506.40" y2="416.80" stroke="#2b2b2b" stroke-width="1.6" />
<line x1="423.70" y1="416.60" x2="423.70" y2="419.40" stroke="#2b2b2b" stroke-width="1.0" />
<line x1="423.70" y1="384.50" x2="423.70" y2="414.50" stroke="#2b2b2b" stroke-width="0.9" />
<line x1="414.20" y1="384.50" x2="433.20" y2="384.50" stroke="#2b2b2b" stroke-width="1.0" />
<line x1="414.20" y1="414.50" x2="433.20" y2="414.50" stroke="#2b2b2b" stroke-width="1.0" />
<rect x="406.05" y="405.58" width="35.30" height="5.51" fill="#3db43a" stroke="#34a832" stroke-width="0.7"/>
<line x1="406.40" y1="409.25" x2="441.00" y2="409.25" stroke="#0b4a10" stroke-width="1.6" />
<text x="423.70" y="429.00" font-size="6.4" class="s" text-anchor="middle" textLength="40.00" lengthAdjust="spacingAndGlyphs">Capla started</text>
<text x="423.70" y="436.80" font-size="6.4" class="s" text-anchor="middle" textLength="52.50" lengthAdjust="spacingAndGlyphs">≤3 days from PEX</text>
<text x="423.70" y="444.80" font-size="6.4" class="s" text-anchor="middle" textLength="38.00" lengthAdjust="spacingAndGlyphs">start (n = 36)</text>
<line x1="478.80" y1="416.60" x2="478.80" y2="419.40" stroke="#2b2b2b" stroke-width="1.0" />
<line x1="478.80" y1="345.50" x2="478.80" y2="416.50" stroke="#2b2b2b" stroke-width="0.9" />
<line x1="469.30" y1="345.50" x2="488.30" y2="345.50" stroke="#2b2b2b" stroke-width="1.0" />
<line x1="469.30" y1="416.50" x2="488.30" y2="416.50" stroke="#2b2b2b" stroke-width="1.0" />
<rect x="461.15" y="385.36" width="35.30" height="23.28" fill="#d3062b" stroke="#b0081f" stroke-width="0.7"/>
<line x1="461.50" y1="403.12" x2="496.10" y2="403.12" stroke="#6a0512" stroke-width="1.6" />
<text x="478.80" y="429.00" font-size="6.4" class="s" text-anchor="middle" textLength="26.00" lengthAdjust="spacingAndGlyphs">No capla</text>
<text x="478.80" y="436.80" font-size="6.4" class="s" text-anchor="middle" textLength="23.50" lengthAdjust="spacingAndGlyphs">(n = 36)</text>
<text x="438.00" y="346.50" font-size="6.4" class="s" textLength="24.50" lengthAdjust="spacingAndGlyphs"><tspan font-style="italic">P</tspan> &lt; .001</text>
<rect x="0.5" y="0.5" width="519" height="452" fill="none" stroke="#4a4a4a" stroke-width="1"/>
</svg>
</body></html>
